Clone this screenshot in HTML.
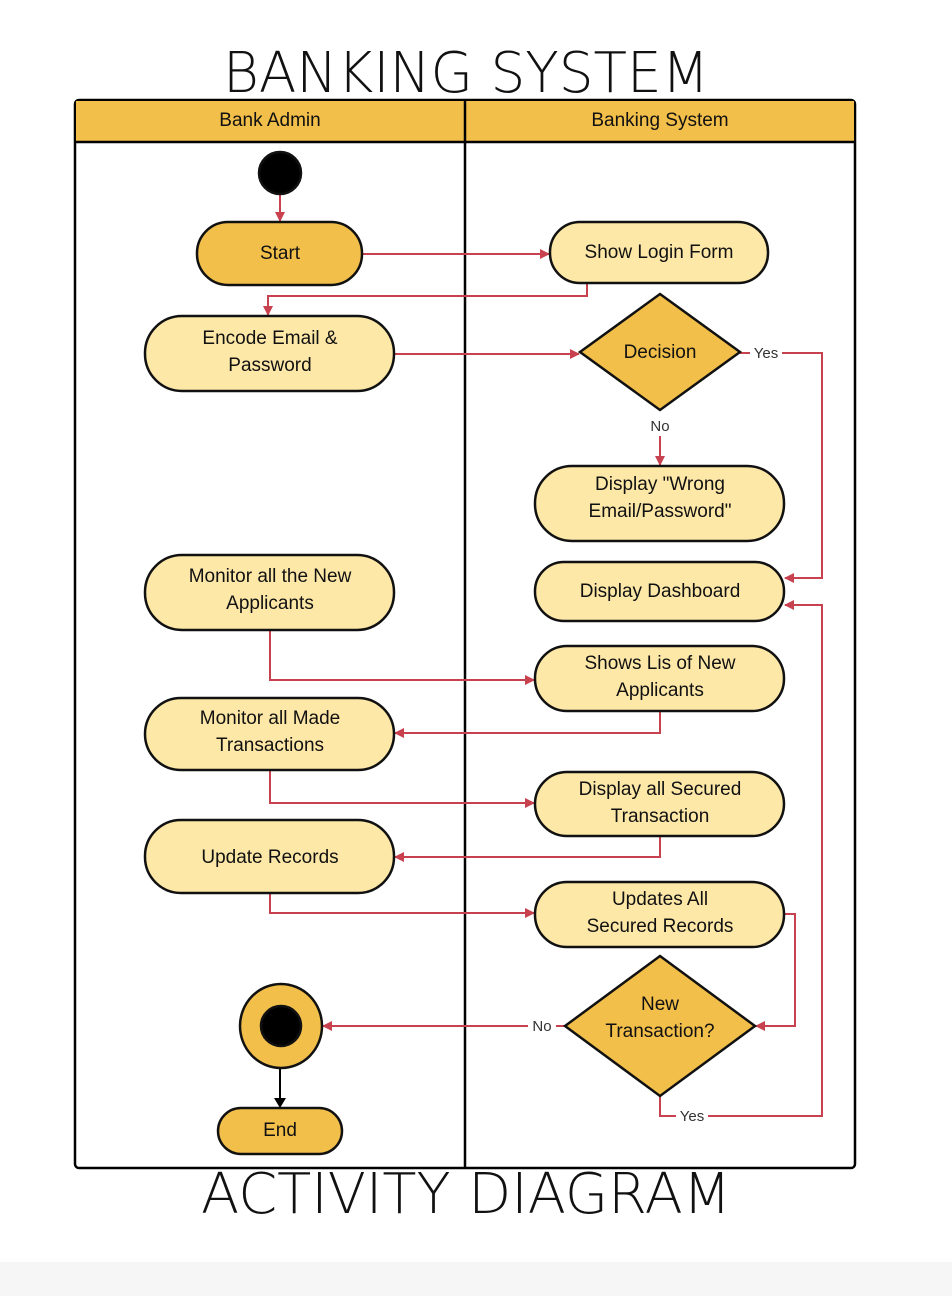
<!DOCTYPE html>
<html><head><meta charset="utf-8"><style>
html,body{margin:0;padding:0;background:#fff;width:952px;height:1296px;overflow:hidden}
svg{display:block}
</style></head><body>
<svg width="952" height="1296" viewBox="0 0 952 1296" xmlns="http://www.w3.org/2000/svg" font-family="Liberation Sans, sans-serif">
<defs>
<marker id="ar" markerWidth="10" markerHeight="10" refX="9" refY="5" orient="auto" markerUnits="userSpaceOnUse"><path d="M0,0 L10,5 L0,10 z" fill="#c8414f"/></marker>
<marker id="ab" markerWidth="10" markerHeight="12" refX="9" refY="6" orient="auto" markerUnits="userSpaceOnUse"><path d="M0,0 L10,6 L0,12 z" fill="#000"/></marker>
</defs>
<rect x="0" y="1262" width="952" height="34" fill="#f6f6f7"/>
<text x="466" y="92" font-size="56" text-anchor="middle" font-family="DejaVu Sans, sans-serif" font-weight="200" fill="#111" textLength="486" lengthAdjust="spacingAndGlyphs">BANKING SYSTEM</text>
<text x="466" y="1213" font-size="56" text-anchor="middle" font-family="DejaVu Sans, sans-serif" font-weight="200" fill="#111" textLength="530" lengthAdjust="spacingAndGlyphs">ACTIVITY DIAGRAM</text>
<!-- frame -->
<rect x="75" y="100" width="780" height="1068" rx="4" fill="#fff" stroke="#000" stroke-width="2.5"/>
<path d="M76,101 H854 V142 H76 Z" fill="#f2bf4a"/>
<line x1="75" y1="142" x2="855" y2="142" stroke="#000" stroke-width="2.5"/>
<line x1="465" y1="100" x2="465" y2="1168" stroke="#000" stroke-width="2.5"/>
<text x="270" y="126" font-size="19" text-anchor="middle" fill="#111">Bank Admin</text>
<text x="660" y="126" font-size="19" text-anchor="middle" fill="#111">Banking System</text>
<!-- connectors -->
<g fill="none" stroke="#c8414f" stroke-width="2">
<line x1="280" y1="194" x2="280" y2="221" marker-end="url(#ar)"/>
<line x1="362" y1="254" x2="549" y2="254" marker-end="url(#ar)"/>
<path d="M587,283 V296 H268 V315" marker-end="url(#ar)"/>
<line x1="394" y1="354" x2="579" y2="354" marker-end="url(#ar)"/>
<path d="M782,353 H822 V578 H785" marker-end="url(#ar)"/>
<path d="M660,436 V465" marker-end="url(#ar)"/>
<path d="M270,630 V680 H534" marker-end="url(#ar)"/>
<path d="M660,711 V733 H395" marker-end="url(#ar)"/>
<path d="M270,770 V803 H534" marker-end="url(#ar)"/>
<path d="M660,836 V857 H395" marker-end="url(#ar)"/>
<path d="M270,893 V913 H534" marker-end="url(#ar)"/>
<path d="M784,914 H795 V1026 H756" marker-end="url(#ar)"/>
<path d="M528,1026 H323" marker-end="url(#ar)"/>
<path d="M660,1096 V1116 H676 M708,1116 H822 V605 H785" marker-end="url(#ar)"/>
<line x1="740" y1="353" x2="750" y2="353"/>
<line x1="556" y1="1026" x2="565" y2="1026"/>
</g>
<g font-size="15" fill="#333" text-anchor="middle">
<text x="766" y="358">Yes</text>
<text x="660" y="431">No</text>
<text x="542" y="1031">No</text>
<text x="692" y="1121">Yes</text>
</g>
<line x1="280" y1="1068" x2="280" y2="1107" stroke="#000" stroke-width="2" marker-end="url(#ab)"/>
<!-- nodes -->
<g stroke="#111" stroke-width="2.5">
<circle cx="280" cy="173" r="21" fill="#000"/>
<rect x="197" y="222" width="165" height="63" rx="31" fill="#f2bf4a"/>
<rect x="550" y="222" width="218" height="61" rx="30" fill="#fde8a8"/>
<rect x="145" y="316" width="249" height="75" rx="37" fill="#fde8a8"/>
<polygon points="660,294 740,352 660,410 580,352" fill="#f2bf4a"/>
<rect x="535" y="466" width="249" height="75" rx="37" fill="#fde8a8"/>
<rect x="535" y="562" width="249" height="59" rx="29" fill="#fde8a8"/>
<rect x="145" y="555" width="249" height="75" rx="37" fill="#fde8a8"/>
<rect x="535" y="646" width="249" height="65" rx="32" fill="#fde8a8"/>
<rect x="145" y="698" width="249" height="72" rx="36" fill="#fde8a8"/>
<rect x="535" y="772" width="249" height="64" rx="32" fill="#fde8a8"/>
<rect x="145" y="820" width="249" height="73" rx="36" fill="#fde8a8"/>
<rect x="535" y="882" width="249" height="65" rx="32" fill="#fde8a8"/>
<polygon points="660,956 755,1026 660,1096 565,1026" fill="#f2bf4a"/>
<ellipse cx="281" cy="1026" rx="41" ry="42" fill="#f2bf4a"/>
<circle cx="281" cy="1026" r="20" fill="#000"/>
<rect x="218" y="1108" width="124" height="46" rx="23" fill="#f2bf4a"/>
</g>
<g font-size="19" fill="#111" text-anchor="middle">
<text x="280" y="259">Start</text>
<text x="659" y="258">Show Login Form</text>
<text x="270" y="344">Encode Email &amp;</text>
<text x="270" y="371">Password</text>
<text x="660" y="358">Decision</text>
<text x="660" y="490">Display "Wrong</text>
<text x="660" y="517">Email/Password"</text>
<text x="660" y="597">Display Dashboard</text>
<text x="270" y="582">Monitor all the New</text>
<text x="270" y="609">Applicants</text>
<text x="660" y="669">Shows Lis of New</text>
<text x="660" y="696">Applicants</text>
<text x="270" y="724">Monitor all Made</text>
<text x="270" y="751">Transactions</text>
<text x="660" y="795">Display all Secured</text>
<text x="660" y="822">Transaction</text>
<text x="270" y="863">Update Records</text>
<text x="660" y="905">Updates All</text>
<text x="660" y="932">Secured Records</text>
<text x="660" y="1010">New</text>
<text x="660" y="1037">Transaction?</text>
<text x="280" y="1136">End</text>
</g>
</svg>
</body></html>
